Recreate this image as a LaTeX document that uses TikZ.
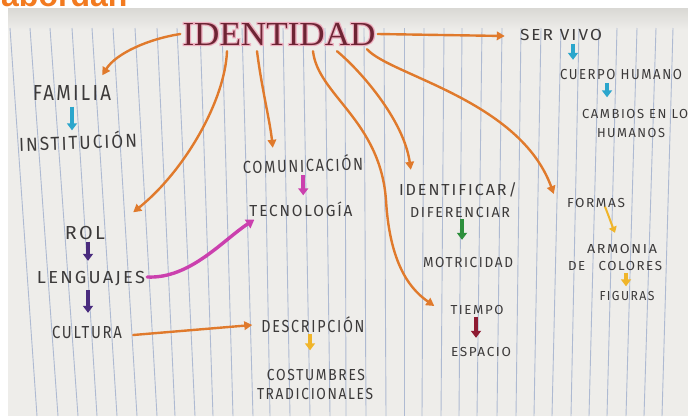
\documentclass[tikz,border=0pt]{standalone}
\usepackage{fontspec}
\usetikzlibrary{arrows.meta}
\newfontfamily\handfont[LetterSpace=12]{Fira Sans}
\newfontfamily\identfont{Liberation Serif}
\newfontfamily\identhalo[FakeBold=7]{Liberation Serif}
\newfontfamily\headfont{Liberation Sans}
\definecolor{paper}{HTML}{EEEDEA}
\definecolor{papertop}{HTML}{D9D8D4}
\definecolor{ruling}{HTML}{AEBAD2}
\definecolor{ink}{HTML}{3C3A3A}
\definecolor{orangeA}{HTML}{E07A2C}
\definecolor{headorange}{HTML}{F27A1F}
\definecolor{cyanA}{HTML}{2BA6CC}
\definecolor{purpleA}{HTML}{4A2C7E}
\definecolor{magentaA}{HTML}{CB40AE}
\definecolor{greenA}{HTML}{2D8F3C}
\definecolor{redA}{HTML}{8E1B32}
\definecolor{yellowA}{HTML}{F0B52A}
\definecolor{identink}{HTML}{6E2434}
\definecolor{identpink}{HTML}{EDB0C0}
\newcommand\hw[3]{\resizebox{#1pt}{#2pt}{\handfont\vphantom{I}\smash{#3}}}
\newcommand\idw[3]{\resizebox{#1pt}{#2pt}{#3\vphantom{I}\smash{IDENTIDAD}}}
\begin{document}
\begin{tikzpicture}[x=1pt,y=-1pt,
  lbl/.style={inner sep=2pt, text=ink},
  oarr/.style={draw=orangeA, line width=2.4pt, line cap=round, -{Triangle[length=8pt,width=8.5pt]}},
  magarr/.style={draw=magentaA, line width=3.4pt, line cap=round, -{Triangle[length=8pt,width=10pt]}},
  stub/.style={line width=4.5pt, -{Triangle[length=7pt,width=10pt]}},
  thinstub/.style={line width=2pt, -{Triangle[length=6pt,width=8pt]}},
  rule/.style={draw=ruling, line width=0.9pt}]
\useasboundingbox (0,0) rectangle (688,416);
\fill[white] (0,0) rectangle (688,416);
\node[anchor=base west, inner sep=0, text=headorange, font=\headfont\bfseries\fontsize{32}{32}\selectfont] (head) at (1,6) {abordan};
\fill[paper] (8,8) rectangle (688,416);
\shade[top color=papertop, bottom color=paper] (8,8) rectangle (688,30);
\foreach \a/\b in {10/37,30/58,50/78,72/97,92/117,113/137,135/157,157/175,177/195,200/213,222/233,242/253,263/270,283/290,303/310,325/330,345/346,364/366,384/386,404/404,424/422,444/441,462/459,482/477,502/497,521/516,541/534,561/552,579/571,599/589,617/607,637/626,656/644,673/662}
  \draw[rule] (\a,28) -- (\b,416);

% title
\node[inner sep=2pt, text=identpink] (identglow) at (279,34) {\idw{193}{22}{\identhalo}};
\node[inner sep=2pt, text=identink] (ident) at (279,34) {\idw{193}{22}{\identfont}};

% labels
\node[lbl] (familia) at (72,93) {\hw{78}{15}{FAMILIA}};
\node[lbl,rotate=2] (institucion) at (78,143) {\hw{118}{13}{INSTITUCIÓN}};
\node[lbl,rotate=1.5] (comunicacion) at (303,166) {\hw{120}{12}{COMUNICACIÓN}};
\node[lbl] (tecnologia) at (301,211) {\hw{103}{11}{TECNOLOGÍA}};
\node[lbl] (rol) at (85,233) {\hw{40}{13}{ROL}};
\node[lbl] (lenguajes) at (91,277) {\hw{108}{12}{LENGUAJES}};
\node[lbl] (cultura) at (87,332) {\hw{70}{12}{CULTURA}};
\node[lbl] (descripcion) at (313,326) {\hw{103}{12}{DESCRIPCIÓN}};
\node[lbl] (costumbres) at (316,375) {\hw{98}{11}{COSTUMBRES}};
\node[lbl] (tradicionales) at (315,394) {\hw{116}{11}{TRADICIONALES}};
\node[lbl] (servivo) at (561,35) {\hw{82}{11}{SER VIVO}};
\node[lbl] (cuerpo) at (621,74) {\hw{122}{10}{CUERPO HUMANO}};
\node[lbl] (cambios) at (635,114) {\hw{106}{9}{CAMBIOS EN LO}};
\node[lbl] (humanos) at (631,133) {\hw{68}{9}{HUMANOS}};
\node[lbl] (identificar) at (458,190) {\hw{118}{11}{IDENTIFICAR/}};
\node[lbl] (diferenciar) at (460,212) {\hw{100}{10}{DIFERENCIAR}};
\node[lbl] (motricidad) at (468,262) {\hw{90}{10}{MOTRICIDAD}};
\node[lbl] (tiempo) at (477,310) {\hw{53}{9}{TIEMPO}};
\node[lbl] (espacio) at (481,352) {\hw{60}{9}{ESPACIO}};
\node[lbl] (formas) at (596,203) {\hw{58}{9}{FORMAS}};
\node[lbl] (armonia) at (622,249) {\hw{70}{9}{ARMONIA}};
\node[lbl] (decolores) at (615,266) {\hw{94}{9}{DE\quad COLORES}};
\node[lbl] (figuras) at (627,296) {\hw{55}{9}{FIGURAS}};

% orange connectors from IDENTIDAD
\draw[oarr] (ident.west) .. controls +(-32,5) and +(14,-22) .. ([shift={(-11,-8)}]familia.north east);
\draw[oarr] ([shift={(-52,4)}]ident.south) .. controls +(-2,49) and +(52,-42) .. ([shift={(26,-12)}]rol.north east);
\draw[oarr] ([shift={(-22,4)}]ident.south) .. controls +(5,39) and +(-3,-28) .. ([shift={(-30,-10)}]comunicacion.north);
\draw[oarr] ([shift={(34,4)}]ident.south) .. controls +(5,44) and (380,120) .. (386,200) .. controls (390,270) and +(-20,-14) .. ([shift={(-14,-4)}]tiempo.west);
\draw[oarr] ([shift={(58,4)}]ident.south) .. controls +(23,19) and +(-7,-50) .. ([shift={(14,-12.5)}]identificar.north west);
\draw[oarr] ([shift={(88,2)}]ident.south) .. controls +(23,26) and +(-34,-94) .. ([shift={(-11,-9)}]formas.west);
\draw[oarr] (ident.east) -- ([shift={(-13,1)}]servivo.west);
\draw[oarr] ([shift={(9,3)}]cultura.east) -- ([shift={(-7,-1)}]descripcion.west);
\draw[magarr] (lenguajes.east) .. controls +(43,2) and +(-31,20) .. ([shift={(7,1)}]tecnologia.south west);

% short coloured arrows
\draw[stub, cyanA, shorten <=4pt, shorten >=4pt] (familia.south) -- (familia.south |- institucion.north);
\draw[stub, purpleA, shorten >=8pt] ([xshift=3]rol.south) -- ([xshift=3]rol.south |- lenguajes.north);
\draw[stub, purpleA, shorten <=5pt, shorten >=11pt] ([xshift=-3]lenguajes.south) -- ([xshift=-3]lenguajes.south |- cultura.north);
\draw[stub, magentaA, shorten <=1pt, shorten >=8pt] (comunicacion.south) -- (comunicacion.south |- tecnologia.north);
\draw[stub, yellowA, shorten >=17pt] ([xshift=-3]descripcion.south) -- ([xshift=-3]descripcion.south |- costumbres.north);
\draw[stub, cyanA, shorten <=1pt, shorten >=7pt] ([xshift=12]servivo.south) -- ([xshift=12]servivo.south |- cuerpo.north);
\draw[stub, cyanA, shorten <=2pt, shorten >=10pt] ([xshift=-14]cuerpo.south) -- ([xshift=-14]cuerpo.south |- cambios.north);
\draw[stub, greenA, shorten >=15pt] ([xshift=2]diferenciar.south) -- ([xshift=2]diferenciar.south |- motricidad.north);
\draw[stub, redA, shorten >=7.5pt] ([xshift=-1]tiempo.south) -- ([xshift=-1]tiempo.south |- espacio.north);
\draw[thinstub, yellowA] ([shift={(9,-3)}]formas.south) .. controls +(4,10) and +(-4,-10) .. ([shift={(-7,-9.5)}]armonia.north);
\draw[stub, yellowA, shorten >=3pt] ([xshift=11]decolores.south) -- ([xshift=11]decolores.south |- figuras.north);
\end{tikzpicture}
\end{document}
